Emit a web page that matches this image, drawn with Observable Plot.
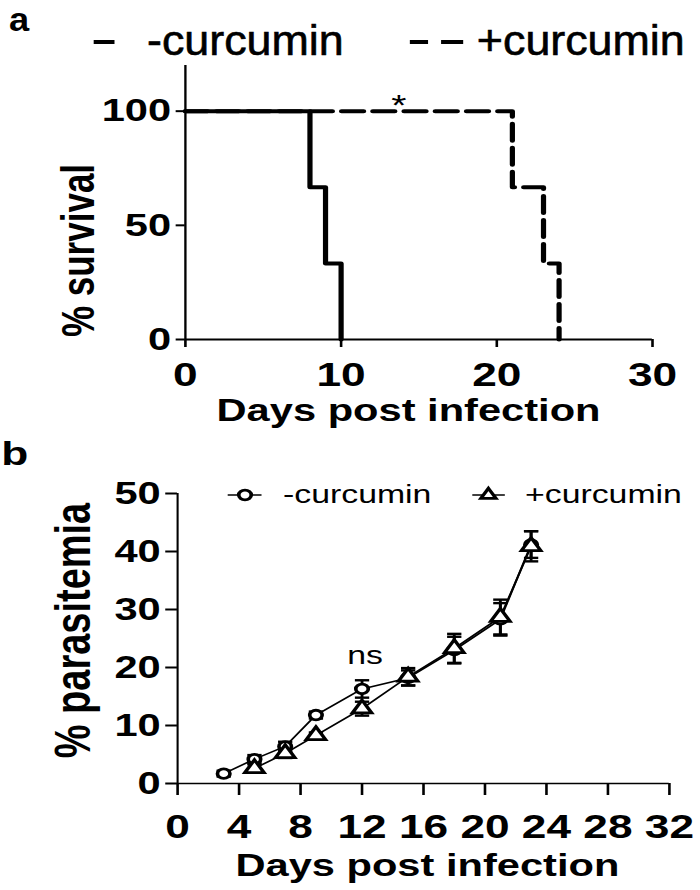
<!DOCTYPE html>
<html><head><meta charset="utf-8">
<script src="https://cdn.jsdelivr.net/npm/d3@7"></script>
<script src="https://cdn.jsdelivr.net/npm/@observablehq/plot@0.6"></script>
<style>
body{margin:0;background:#fff;}
#root{position:relative;width:538px;height:890px;transform:scaleX(1.3011);transform-origin:0 0;}
#root > svg, #root > figure{position:absolute;left:0;margin:0;}
</style></head><body><div id="root"></div>
<script>
// ---- Panel a: survival ----
const survDaysMinus = [0, 8, 9, 10];
const survMinus = [100, 66.7, 33.3, 0];
const survDaysPlus = [0, 21, 23, 24];
const survPlus = [100, 66.7, 33.3, 0];
const survTicksX = [0, 10, 20, 30];
const survTicksY = [0, 50, 100];
const survNote = [{day: 13.7, value: 100, label: "*"}];

// ---- Panel b: parasitemia ----
const paraDaysMinus = [3, 5, 7, 9, 12, 15, 18, 21, 23];
const paraMinus = [1.7, 4.2, 6.4, 11.8, 16.3, 18.2, 23.0, 28.3, 41.2];
const sdMinus = [0.5, 0.7, 0.8, 0.6, 1.5, 1.3, 2.3, 2.8, 2.3];
const paraDaysPlus = [5, 7, 9, 12, 15, 18, 21, 23];
const paraPlus = [2.6, 5.2, 8.3, 12.9, 18.4, 23.3, 28.7, 40.9];
const sdPlus = [0.7, 0.8, 0.5, 1.2, 1.5, 2.5, 3.0, 2.6];
const paraTicksX = [0, 4, 8, 12, 16, 20, 24, 28, 32];
const paraTicksY = [0, 10, 20, 30, 40, 50];
const paraNote = [{day: 12.2, value: 20.6, label: "ns"}];

const seriesLabels = ["-curcumin", "+curcumin"];
const panelLabels = ["a", "b"];

const FONT = '"Liberation Sans", Arial, Helvetica, sans-serif';

const root = document.getElementById("root");
const tbl = (xs, ys, sds) => xs.map((d, i) => ({day: d, value: ys[i], lo: sds ? ys[i] - sds[i] : null, hi: sds ? ys[i] + sds[i] : null}));

const capSymbol = {draw(ctx, size) { const r = Math.sqrt(size / Math.PI); ctx.moveTo(-r, 0); ctx.lineTo(r, 0); }};

// Panel a
const plotA = Plot.plot({
  width: 538, height: 420,
  marginLeft: 142, marginRight: 37, marginTop: 65, marginBottom: 81,
  x: {domain: [0, 30]},
  y: {domain: [0, 120]},
  style: {fontFamily: FONT, fontWeight: "bold", fontSize: "32px", color: "black", background: "transparent", overflow: "visible"},
  marks: [
    Plot.ruleX([0], {strokeWidth: 1.8}),
    Plot.ruleY([0], {strokeWidth: 1.8}),
    Plot.line(tbl(survDaysPlus, survPlus), {x: "day", y: "value", curve: "step-after", strokeWidth: 4, strokeDasharray: "17,7"}),
    Plot.line(tbl(survDaysMinus, survMinus), {x: "day", y: "value", curve: "step-after", strokeWidth: 4}),
    Plot.axisX({ticks: survTicksX, tickSize: 8, tickPadding: 14, fontSize: 34, strokeWidth: 2, label: null}),
    Plot.axisY({ticks: survTicksY, tickSize: 7, tickPadding: 4, fontSize: 32, strokeWidth: 2, label: null}),
    Plot.text(survNote, {x: "day", y: "value", text: "label", fontSize: 30, fontWeight: "normal", lineAnchor: "bottom", dy: 4}),
    Plot.text(["Days post infection"], {frameAnchor: "bottom", textAnchor: "middle", lineAnchor: "bottom", dx: -8, dy: 81, fontSize: 32}),
    Plot.text(["% survival"], {frameAnchor: "left", rotate: -90, textAnchor: "middle", lineAnchor: "bottom", dx: -70, dy: 48, fontSize: 35})
  ]
});
plotA.style.top = "0px";
root.appendChild(plotA);

// Panel b
const minusP = tbl(paraDaysMinus, paraMinus, sdMinus);
const plusP = tbl(paraDaysPlus, paraPlus, sdPlus);
const plotB = Plot.plot({
  width: 538, height: 450,
  marginLeft: 136, marginRight: 24, marginTop: 53, marginBottom: 107,
  x: {domain: [0, 32]},
  y: {domain: [0, 50]},
  style: {fontFamily: FONT, fontWeight: "bold", fontSize: "32px", color: "black", background: "transparent", overflow: "visible"},
  marks: [
    Plot.ruleX([0], {strokeWidth: 1.6}),
    Plot.ruleY([0], {strokeWidth: 1.6}),
    Plot.line(minusP, {x: "day", y: "value", strokeWidth: 1.6}),
    Plot.line(plusP, {x: "day", y: "value", strokeWidth: 1.6}),
    Plot.ruleX(minusP, {x: "day", y1: "lo", y2: "hi", strokeWidth: 2.2}),
    Plot.dot(minusP, {x: "day", y: "hi", symbol: capSymbol, r: 5.5, fill: "none", stroke: "black", strokeWidth: 2.4}),
    Plot.dot(minusP, {x: "day", y: "lo", symbol: capSymbol, r: 5.5, fill: "none", stroke: "black", strokeWidth: 2.4}),
    Plot.ruleX(plusP, {x: "day", y1: "lo", y2: "hi", strokeWidth: 2.2}),
    Plot.dot(plusP, {x: "day", y: "hi", symbol: capSymbol, r: 5.5, fill: "none", stroke: "black", strokeWidth: 2.4}),
    Plot.dot(plusP, {x: "day", y: "lo", symbol: capSymbol, r: 5.5, fill: "none", stroke: "black", strokeWidth: 2.4}),
    Plot.dot(minusP, {x: "day", y: "value", r: 4.8, fill: "white", stroke: "black", strokeWidth: 2.8}),
    Plot.dot(plusP, {x: "day", y: "value", symbol: "triangle", r: 5.5, fill: "white", stroke: "black", strokeWidth: 2.8}),
    Plot.axisX({ticks: paraTicksX, tickSize: 12, tickPadding: 18, fontSize: 34, strokeWidth: 2, label: null}),
    Plot.axisY({ticks: paraTicksY, tickSize: 9, tickPadding: 4, fontSize: 32, strokeWidth: 2, label: null}),
    Plot.text(paraNote, {x: "day", y: "value", text: "label", fontSize: 26, fontWeight: "normal", lineAnchor: "bottom"}),
    Plot.text(["Days post infection"], {frameAnchor: "bottom", textAnchor: "middle", lineAnchor: "bottom", dx: 3, dy: 92, fontSize: 32}),
    Plot.text(["% parasitemia"], {frameAnchor: "left", rotate: -90, textAnchor: "middle", lineAnchor: "bottom", dx: -67, dy: -8, fontSize: 38})
  ]
});
plotB.style.top = "440px";
root.appendChild(plotB);

// Overlay: panel letters and legends
const ov = d3.select(root).append("svg")
  .attr("width", 538).attr("height", 890)
  .style("top", "0px").style("pointer-events", "none")
  .attr("font-family", FONT);

// narrow text helper (condensed horizontally like the original's narrow face)
const narrow = (x, y, size, weight, str) => ov.append("text")
  .attr("transform", `translate(${x},${y}) scale(0.82,1)`)
  .attr("font-size", size).attr("font-weight", weight).text(str);

narrow(7, 31, 34, "bold", panelLabels[0]);
ov.append("text").attr("x", 1).attr("y", 465).attr("font-weight", "bold").attr("font-size", 34).text(panelLabels[1]);

// legend a
ov.append("line").attr("x1", 72).attr("x2", 88).attr("y1", 42).attr("y2", 42).attr("stroke", "black").attr("stroke-width", 4);
narrow(113, 55, 42, "normal", seriesLabels[0]).attr("stroke", "black").attr("stroke-width", 0.6);
ov.append("line").attr("x1", 315).attr("x2", 329).attr("y1", 42).attr("y2", 42).attr("stroke", "black").attr("stroke-width", 4);
ov.append("line").attr("x1", 339).attr("x2", 356).attr("y1", 42).attr("y2", 42).attr("stroke", "black").attr("stroke-width", 4);
narrow(366.5, 55, 42, "normal", seriesLabels[1]).attr("stroke", "black").attr("stroke-width", 0.6);

// legend b
ov.append("line").attr("x1", 175).attr("x2", 201).attr("y1", 495).attr("y2", 495).attr("stroke", "black").attr("stroke-width", 1.6);
ov.append("circle").attr("cx", 188.3).attr("cy", 495).attr("r", 4.8).attr("fill", "white").attr("stroke", "black").attr("stroke-width", 2.8);
ov.append("text").attr("x", 217.5).attr("y", 503).attr("font-size", 26).text(seriesLabels[0]);
ov.append("line").attr("x1", 363).attr("x2", 388).attr("y1", 495).attr("y2", 495).attr("stroke", "black").attr("stroke-width", 1.6);
ov.append("path").attr("d", d3.symbol(d3.symbolTriangle2, Math.PI * 5.5 * 5.5)()).attr("transform", "translate(375.4,495)").attr("fill", "white").attr("stroke", "black").attr("stroke-width", 2.8);
ov.append("text").attr("x", 403.5).attr("y", 503).attr("font-size", 26).text(seriesLabels[1]);
</script>
</body></html>
